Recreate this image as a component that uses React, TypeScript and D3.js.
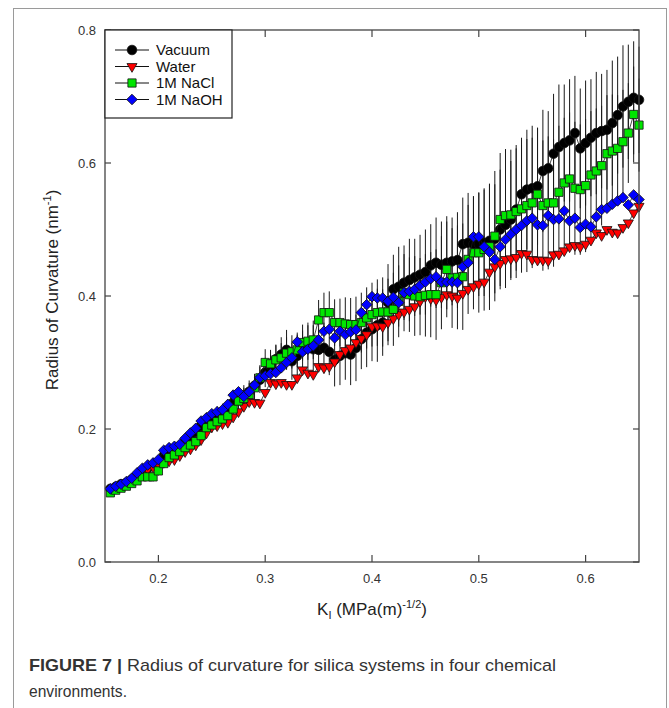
import React from 'react';
import * as d3 from 'd3';

const K = [
  0.155, 0.16, 0.165, 0.17, 0.175, 0.18, 0.185, 0.19, 0.195, 0.2,
  0.205, 0.21, 0.215, 0.22, 0.225, 0.23, 0.235, 0.24, 0.245, 0.25,
  0.255, 0.26, 0.265, 0.27, 0.275, 0.28, 0.285, 0.29, 0.295, 0.3,
  0.305, 0.31, 0.315, 0.32, 0.325, 0.33, 0.335, 0.34, 0.345, 0.35,
  0.355, 0.36, 0.365, 0.37, 0.375, 0.38, 0.385, 0.39, 0.395, 0.4,
  0.405, 0.41, 0.415, 0.42, 0.425, 0.43, 0.435, 0.44, 0.445, 0.45,
  0.455, 0.46, 0.465, 0.47, 0.475, 0.48, 0.485, 0.49, 0.495, 0.5,
  0.505, 0.51, 0.515, 0.52, 0.525, 0.53, 0.535, 0.54, 0.545, 0.55,
  0.555, 0.56, 0.565, 0.57, 0.575, 0.58, 0.585, 0.59, 0.595, 0.6,
  0.605, 0.61, 0.615, 0.62, 0.625, 0.63, 0.635, 0.64, 0.645, 0.65,
];

const vacuum = [
  0.110, 0.113, 0.117, 0.119, 0.124, 0.130, 0.135, 0.141, 0.145, 0.150,
  0.160, 0.166, 0.170, 0.174, 0.182, 0.188, 0.196, 0.205, 0.212, 0.218,
  0.222, 0.226, 0.232, 0.240, 0.248, 0.250, 0.256, 0.265, 0.274, 0.285,
  0.295, 0.305, 0.312, 0.319, 0.302, 0.310, 0.318, 0.322, 0.320, 0.319,
  0.322, 0.316, 0.304, 0.310, 0.314, 0.312, 0.322, 0.335, 0.345, 0.350,
  0.356, 0.360, 0.390, 0.410, 0.414, 0.420, 0.424, 0.428, 0.432, 0.436,
  0.446, 0.450, 0.447, 0.450, 0.452, 0.454, 0.478, 0.480, 0.478, 0.478,
  0.480, 0.483, 0.486, 0.500, 0.507, 0.515, 0.530, 0.553, 0.560, 0.562,
  0.565, 0.588, 0.592, 0.614, 0.624, 0.630, 0.634, 0.645, 0.622, 0.630,
  0.638, 0.645, 0.648, 0.650, 0.660, 0.672, 0.685, 0.692, 0.698, 0.695,
];

const water = [
  0.108, 0.112, 0.115, 0.118, 0.122, 0.128, 0.134, 0.139, 0.143, 0.146,
  0.150, 0.152, 0.154, 0.160, 0.166, 0.170, 0.176, 0.184, 0.194, 0.203,
  0.205, 0.208, 0.210, 0.218, 0.226, 0.234, 0.241, 0.240, 0.239, 0.255,
  0.270, 0.268, 0.270, 0.267, 0.267, 0.277, 0.289, 0.284, 0.282, 0.294,
  0.292, 0.294, 0.301, 0.312, 0.318, 0.322, 0.330, 0.336, 0.342, 0.354,
  0.355, 0.354, 0.360, 0.366, 0.372, 0.376, 0.380, 0.384, 0.392, 0.399,
  0.396, 0.394, 0.398, 0.402, 0.400, 0.397, 0.404, 0.410, 0.414, 0.418,
  0.421, 0.436, 0.444, 0.449, 0.455, 0.456, 0.458, 0.464, 0.463, 0.455,
  0.454, 0.454, 0.453, 0.462, 0.463, 0.468, 0.474, 0.476, 0.474, 0.478,
  0.484, 0.495, 0.491, 0.500, 0.496, 0.495, 0.503, 0.510, 0.525, 0.535,
];

const nacl = [
  0.104, 0.108, 0.111, 0.114, 0.118, 0.122, 0.128, 0.128, 0.128, 0.137,
  0.148, 0.157, 0.161, 0.166, 0.172, 0.176, 0.181, 0.190, 0.202, 0.206,
  0.211, 0.215, 0.220, 0.230, 0.242, 0.246, 0.252, 0.262, 0.277, 0.300,
  0.298, 0.304, 0.307, 0.314, 0.316, 0.319, 0.330, 0.332, 0.334, 0.364,
  0.375, 0.375, 0.360, 0.360, 0.358, 0.357, 0.357, 0.360, 0.367, 0.372,
  0.375, 0.376, 0.376, 0.380, 0.392, 0.405, 0.402, 0.400, 0.399, 0.401,
  0.402, 0.402, 0.420, 0.440, 0.427, 0.428, 0.429, 0.455, 0.465, 0.465,
  0.470, 0.474, 0.490, 0.515, 0.521, 0.522, 0.527, 0.531, 0.536, 0.540,
  0.553, 0.536, 0.540, 0.540, 0.556, 0.570, 0.576, 0.562, 0.560, 0.566,
  0.582, 0.588, 0.596, 0.614, 0.618, 0.622, 0.632, 0.645, 0.673, 0.657,
];

const naoh = [
  0.110, 0.114, 0.117, 0.121, 0.126, 0.134, 0.141, 0.146, 0.149, 0.154,
  0.168, 0.172, 0.174, 0.177, 0.186, 0.194, 0.201, 0.212, 0.217, 0.223,
  0.226, 0.229, 0.237, 0.251, 0.256, 0.249, 0.256, 0.266, 0.277, 0.280,
  0.283, 0.285, 0.292, 0.300, 0.307, 0.331, 0.316, 0.320, 0.325, 0.334,
  0.347, 0.350, 0.337, 0.347, 0.342, 0.346, 0.349, 0.375, 0.387, 0.399,
  0.397, 0.397, 0.392, 0.398, 0.390, 0.405, 0.407, 0.410, 0.416, 0.421,
  0.426, 0.429, 0.421, 0.421, 0.421, 0.420, 0.444, 0.450, 0.489, 0.489,
  0.474, 0.466, 0.455, 0.474, 0.485, 0.493, 0.500, 0.506, 0.513, 0.517,
  0.507, 0.506, 0.521, 0.515, 0.516, 0.528, 0.513, 0.517, 0.503, 0.508,
  0.504, 0.519, 0.530, 0.532, 0.538, 0.543, 0.548, 0.537, 0.552, 0.545,
];

const errVacuum = [
  0.004, 0.004, 0.005, 0.005, 0.005, 0.006, 0.006, 0.006, 0.007, 0.007,
  0.007, 0.008, 0.008, 0.008, 0.009, 0.009, 0.010, 0.010, 0.011, 0.011,
  0.012, 0.012, 0.013, 0.014, 0.015, 0.016, 0.017, 0.018, 0.020, 0.022,
  0.024, 0.022, 0.026, 0.030, 0.028, 0.032, 0.030, 0.034, 0.036, 0.032,
  0.038, 0.035, 0.040, 0.044, 0.040, 0.046, 0.050, 0.045, 0.052, 0.048,
  0.055, 0.050, 0.058, 0.052, 0.060, 0.056, 0.062, 0.058, 0.060, 0.064,
  0.062, 0.068, 0.065, 0.070, 0.066, 0.072, 0.070, 0.075, 0.072, 0.078,
  0.080, 0.085, 0.082, 0.090, 0.095, 0.088, 0.092, 0.085, 0.090, 0.094,
  0.088, 0.092, 0.086, 0.090, 0.094, 0.088, 0.092, 0.086, 0.090, 0.094,
  0.088, 0.092, 0.086, 0.090, 0.094, 0.088, 0.092, 0.086, 0.085, 0.080,
];

const errNacl = [
  0.004, 0.004, 0.005, 0.005, 0.005, 0.006, 0.006, 0.006, 0.007, 0.007,
  0.007, 0.008, 0.008, 0.008, 0.009, 0.009, 0.010, 0.010, 0.011, 0.011,
  0.012, 0.012, 0.013, 0.014, 0.015, 0.016, 0.017, 0.018, 0.019, 0.020,
  0.020, 0.022, 0.022, 0.024, 0.025, 0.026, 0.027, 0.028, 0.029, 0.030,
  0.030, 0.032, 0.035, 0.036, 0.040, 0.040, 0.042, 0.045, 0.046, 0.048,
  0.050, 0.052, 0.050, 0.055, 0.054, 0.058, 0.056, 0.060, 0.058, 0.062,
  0.064, 0.068, 0.070, 0.072, 0.075, 0.078, 0.080, 0.082, 0.085, 0.090,
  0.092, 0.095, 0.098, 0.100, 0.100, 0.098, 0.100, 0.096, 0.100, 0.098,
  0.100, 0.098, 0.100, 0.096, 0.100, 0.098, 0.100, 0.100, 0.098, 0.100,
  0.096, 0.094, 0.090, 0.088, 0.085, 0.080, 0.078, 0.075, 0.072, 0.070,
];

const seriesNames = ['Vacuum', 'Water', '1M NaCl', '1M NaOH'];
const seriesColors = ['#000000', '#ff0000', '#00e600', '#0000ff'];
const xTicks = [0.2, 0.3, 0.4, 0.5, 0.6];
const yTicks = [0.0, 0.2, 0.4, 0.6, 0.8];

type Shape = 'circle' | 'triDown' | 'square' | 'diamond';
const shapes: Shape[] = ['circle', 'triDown', 'square', 'diamond'];

function symbolPath(shape: Shape): { d: string; rot: number } {
  if (shape === 'circle') return { d: d3.symbol(d3.symbolCircle, Math.PI * 4.8 * 4.8)() || '', rot: 0 };
  if (shape === 'triDown') return { d: d3.symbol(d3.symbolTriangle, 44)() || '', rot: 180 };
  if (shape === 'square') return { d: d3.symbol(d3.symbolSquare, 68)() || '', rot: 0 };
  return { d: d3.symbol(d3.symbolSquare, 56)() || '', rot: 45 };
}

export default function App() {
  const x = d3.scaleLinear().domain([0.15, 0.65]).range([105, 639]);
  const y = d3.scaleLinear().domain([0, 0.8]).range([562, 30]);
  const data = [vacuum, water, nacl, naoh];
  const errs: (number[] | null)[] = [errVacuum, null, errNacl, null];
  const line = d3.line<number>().x((_, i) => x(K[i])).y((d) => y(d));
  const font = 'Liberation Sans, Arial, Helvetica, sans-serif';
  const legendY = [50, 66.5, 83, 99.5];

  return (
    <svg width={669} height={708} style={{ position: 'absolute', left: 0, top: 0, background: '#fff' }}
      fontFamily={font}>
      <rect x={13.5} y={8.5} width={653} height={720} fill="none" stroke="#9a9a9a" strokeWidth={1} />

      {/* error bars */}
      <g stroke="#1a1a1a" strokeWidth={1}>
        {errs.map((e, si) =>
          e ? data[si].map((v, i) => (
            <line key={`e${si}-${i}`} x1={x(K[i])} x2={x(K[i])} y1={y(v - e[i])} y2={y(v + e[i])} />
          )) : null
        )}
      </g>

      {/* series */}
      {data.map((vals, si) => {
        const sp = symbolPath(shapes[si]);
        return (
          <g key={`s${si}`}>
            <path d={line(vals) || ''} fill="none" stroke="#1a1a1a" strokeWidth={0.8} />
            {vals.map((v, i) => (
              <path key={i} d={sp.d} transform={`translate(${x(K[i])},${y(v)}) rotate(${sp.rot})`}
                fill={seriesColors[si]} stroke="#111" strokeWidth={0.8} />
            ))}
          </g>
        );
      })}

      {/* axes frame */}
      <rect x={105} y={30} width={534} height={532} fill="none" stroke="#444" strokeWidth={1.3} />
      {xTicks.map((t) => (
        <g key={`xt${t}`}>
          <line x1={x(t)} x2={x(t)} y1={562} y2={555} stroke="#444" strokeWidth={1.2} />
          <line x1={x(t)} x2={x(t)} y1={30} y2={37} stroke="#444" strokeWidth={1.2} />
          <text x={x(t)} y={583} textAnchor="middle" fontSize={13} fill="#333">{t.toFixed(1)}</text>
        </g>
      ))}
      {yTicks.map((t) => (
        <g key={`yt${t}`}>
          <line x1={105} x2={111} y1={y(t)} y2={y(t)} stroke="#444" strokeWidth={1.2} />
          <line x1={639} x2={633} y1={y(t)} y2={y(t)} stroke="#444" strokeWidth={1.2} />
          <text x={96} y={y(t) + 4.5} textAnchor="end" fontSize={13} fill="#333">{t.toFixed(1)}</text>
        </g>
      ))}

      {/* axis labels */}
      <text x={372} y={615} textAnchor="middle" fontSize={17} fill="#222">
        K<tspan fontSize={11} dy={4}>I</tspan><tspan dy={-4}> (MPa(m)</tspan>
        <tspan fontSize={11} dy={-7}>-1/2</tspan><tspan dy={7}>)</tspan>
      </text>
      <text transform="translate(58,290) rotate(-90)" textAnchor="middle" fontSize={17} fill="#222">
        Radius of Curvature (nm<tspan fontSize={11} dy={-7}>-1</tspan><tspan dy={7}>)</tspan>
      </text>

      {/* legend */}
      <rect x={105} y={30} width={127} height={88} fill="#fff" stroke="#222" strokeWidth={1.2} />
      {seriesNames.map((n, si) => {
        const sp = symbolPath(shapes[si]);
        return (
          <g key={`lg${si}`}>
            <line x1={115} x2={149} y1={legendY[si]} y2={legendY[si]} stroke="#111" strokeWidth={1} />
            <path d={sp.d} transform={`translate(132,${legendY[si]}) rotate(${sp.rot})`}
              fill={seriesColors[si]} stroke="#111" strokeWidth={0.8} />
            <text x={156} y={legendY[si] + 5} fontSize={15} fill="#111">{n}</text>
          </g>
        );
      })}

      {/* caption */}
      <text x={29} y={671} fontSize={17} fill="#333" textLength={527} lengthAdjust="spacingAndGlyphs">
        <tspan fontWeight="bold">FIGURE 7 | </tspan>Radius of curvature for silica systems in four chemical
      </text>
      <text x={29} y={697} fontSize={17} fill="#333" textLength={98} lengthAdjust="spacingAndGlyphs">environments.</text>
    </svg>
  );
}
